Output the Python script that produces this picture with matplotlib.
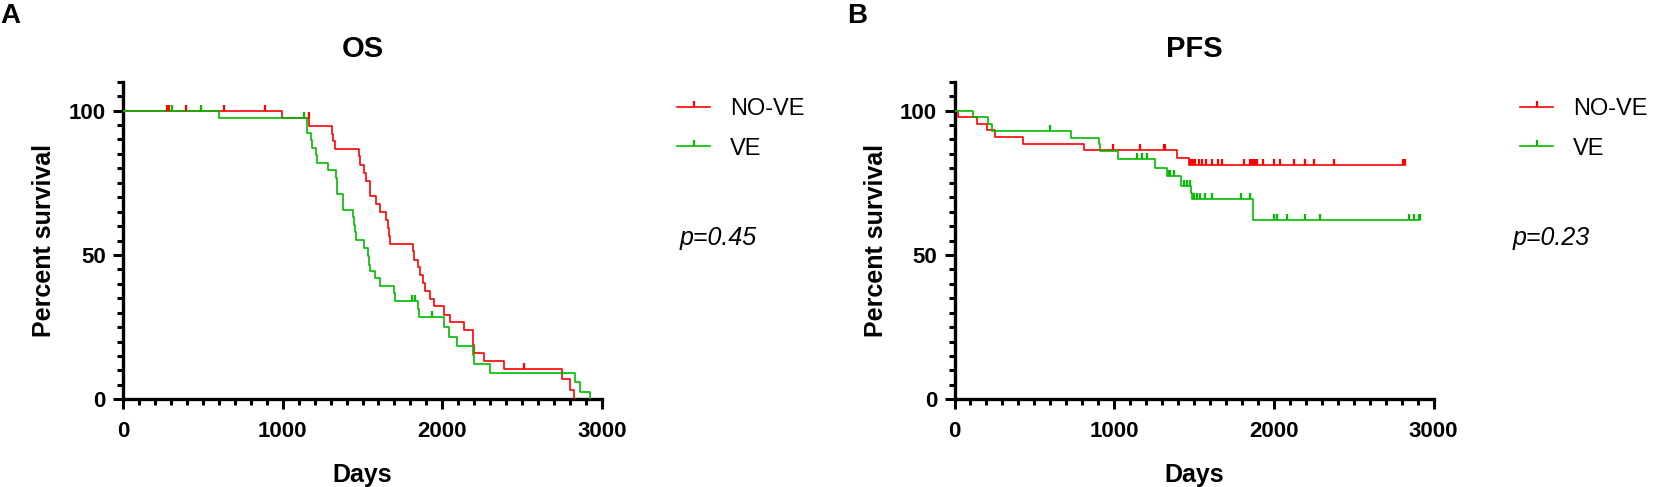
import numpy as np
import matplotlib
matplotlib.use("Agg")
import matplotlib.pyplot as plt
from matplotlib.path import Path
from matplotlib.lines import Line2D
from matplotlib.ticker import MultipleLocator

plt.rcParams['font.family'] = ['Liberation Sans', 'DejaVu Sans']

# ---- data ----
groups = ["NO-VE", "VE"]
colors = {"NO-VE": "#FF0000", "VE": "#00BB00"}

# OS, NO-VE
os_red_t = [0, 995, 1165, 1310, 1318, 1328, 1475, 1482, 1510, 1525, 1545, 1550, 1585, 1612,
            1650, 1660, 1668, 1674, 1815, 1822, 1845, 1862, 1880, 1893, 1925, 1945, 2008,
            2050, 2134, 2190, 2193, 2196, 2259, 2384, 2750, 2802, 2823]
os_red_s = [100, 97.4, 94.8, 92.0, 89.4, 86.8, 84.1, 81.3, 78.5, 75.6, 72.9, 70.3, 67.5, 64.8,
            62.0, 59.3, 56.5, 53.9, 51.2, 48.4, 45.7, 43.0, 40.2, 37.4, 34.6, 32.2, 29.3,
            26.7, 24.1, 21.4, 18.7, 16.0, 13.1, 10.4, 6.9, 3.2, 0]
os_red_cens = [274, 290, 395, 635, 890, 1162, 2514]

# OS, VE
os_green_t = [0, 604, 1150, 1155, 1180, 1185, 1210, 1218, 1287, 1332, 1338, 1342, 1377, 1380,
              1440, 1448, 1452, 1458, 1507, 1535, 1540, 1549, 1580, 1611, 1700, 1705, 1848,
              1852, 2008, 2040, 2092, 2190, 2200, 2301, 2834, 2861, 2924]
os_green_s = [100, 97.5, 94.9, 92.4, 89.8, 87.2, 84.6, 82.0, 79.4, 76.8, 74.1, 71.0, 68.3, 65.7,
              63.1, 60.5, 57.9, 55.3, 52.4, 49.5, 46.6, 44.3, 42.0, 39.4, 36.8, 34.1, 31.3,
              28.5, 25.2, 21.7, 18.6, 15.4, 12.3, 9.2, 6.1, 2.6, 0]
os_green_cens = [305, 489, 1135, 1810, 1831, 1935]

# PFS, NO-VE
pfs_red_t = [0, 24, 139, 202, 254, 427, 812, 1393, 1466]
pfs_red_s = [100, 97.7, 95.5, 93.2, 90.8, 88.5, 86.2, 83.6, 81.2]
pfs_red_cens = [990, 1159, 1309, 1319, 1476, 1487, 1497, 1508, 1529, 1550, 1577, 1612, 1650,
                1675, 1811, 1853, 1863, 1874, 1884, 1895, 1932, 1999, 2041, 2124, 2193, 2250,
                2375, 2810, 2824]

# PFS, VE
pfs_green_t = [0, 118, 212, 233, 730, 905, 912, 1021, 1257, 1330, 1420, 1482, 1487, 1869]
pfs_green_s = [100, 97.7, 95.5, 93.0, 90.6, 88.3, 86.0, 83.3, 80.0, 77.3, 73.8, 71.6, 69.4, 62.0]
pfs_green_cens = [599, 1146, 1174, 1205, 1341, 1351, 1372, 1435, 1456, 1472, 1497, 1518, 1539,
                  1571, 1612, 1794, 1848, 1999, 2020, 2083, 2197, 2292, 2845, 2876, 2908, 2918]

panels = [
    ("A", "OS", "p=0.45",
     {"NO-VE": (os_red_t, os_red_s, os_red_cens), "VE": (os_green_t, os_green_s, os_green_cens)}),
    ("B", "PFS", "p=0.23",
     {"NO-VE": (pfs_red_t, pfs_red_s, pfs_red_cens), "VE": (pfs_green_t, pfs_green_s, pfs_green_cens)}),
]

# censor mark: short tick pointing up
up_tick = Path([(0, 0), (0, 1)], [Path.MOVETO, Path.LINETO])

W, H = 1654, 487
fig = plt.figure(figsize=(W / 100, H / 100), dpi=100)

ax_left = [123, 954.5]
legend_x = [677, 1520]
ptext_x = [680, 1513]
letter_x = [10, 857]

for i, (letter, title, ptxt, series) in enumerate(panels):
    ax = fig.add_axes([ax_left[i] / W, 87.7 / H, 479 / W, 317.6 / H])
    for g in groups:
        t, s, cens = series[g]
        t = np.array(t, float)
        s = np.array(s, float)
        cens = np.array(cens, float)
        t_end = max(t[-1], cens.max()) if len(cens) else t[-1]
        tt = np.append(t, t_end)
        ss = np.append(s, s[-1])
        ax.step(tt, ss, where='post', color=colors[g], lw=1.2, zorder=3)
        cy = s[np.searchsorted(t, cens, side='right') - 1]
        ax.plot(cens, cy, ls='none', marker=up_tick, ms=8, mew=1.6,
                color=colors[g], zorder=4)

    ax.set_xlim(0, 3000)
    ax.set_ylim(0, 110)
    ax.set_xticks([0, 1000, 2000, 3000])
    ax.set_yticks([0, 50, 100])
    ax.xaxis.set_minor_locator(MultipleLocator(100))
    ax.yaxis.set_minor_locator(MultipleLocator(5))
    for sp in ['top', 'right']:
        ax.spines[sp].set_visible(False)
    for sp in ['left', 'bottom']:
        ax.spines[sp].set_linewidth(2.4)
    ax.tick_params(which='major', length=7.5, width=2.2, labelsize=16, pad=5)
    ax.tick_params(axis='x', which='major', pad=8)
    ax.tick_params(which='minor', length=4, width=2.2)
    for lab in ax.get_xticklabels() + ax.get_yticklabels():
        lab.set_fontweight('bold')
    ax.set_xlabel("Days", fontsize=18, fontweight='bold', labelpad=15)
    ax.set_ylabel("Percent survival", fontsize=18, fontweight='bold', labelpad=9)
    ax.set_title(title, fontsize=21, fontweight='bold', pad=18)

    handles = [Line2D([], [], color=colors[g], lw=1.2, marker=up_tick, ms=8, mew=1.6)
               for g in groups]
    ax.legend(handles, groups, loc='upper left', frameon=False, fontsize=17,
              bbox_to_anchor=(legend_x[i] / W, 1 - 98 / H), bbox_transform=fig.transFigure,
              borderpad=0, borderaxespad=0, handlelength=1.4, handletextpad=0.85,
              labelspacing=0.75, numpoints=1)

    fig.text(ptext_x[i] / W, 1 - 238 / H, ptxt, fontsize=18, style='italic',
             ha='left', va='center')
    fig.text(letter_x[i] / W, 1 - 16 / H, letter, fontsize=20, fontweight='bold',
             ha='center', va='center')

fig.savefig("out.png", dpi=100)
